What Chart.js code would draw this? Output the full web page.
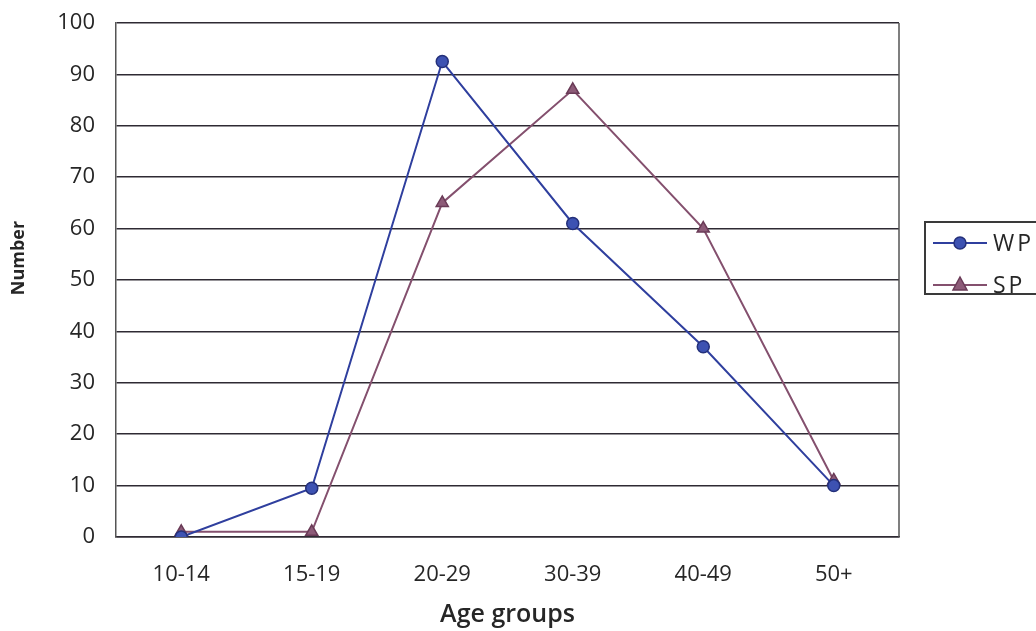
<!DOCTYPE html>
<html>
<head>
<meta charset="utf-8">
<script src="https://cdn.jsdelivr.net/npm/chart.js@4.4.1/dist/chart.umd.min.js"></script>
<style>
  html, body { margin: 0; padding: 0; background: #ffffff; }
  #wrap { width: 1036px; height: 631px; position: relative; }
</style>
</head>
<body>
<div id="wrap"><canvas id="chart" width="1036" height="631"></canvas></div>
<script>
// Age groups on the category axis
const ageGroups = ['10-14', '15-19', '20-29', '30-39', '40-49', '50+'];
// Counts per age group
const wpValues = [0, 9.5, 92.5, 61, 37, 10];
const spValues = [1, 1, 65, 87, 60, 11];
// Y axis range and step
const yMin = 0;
const yMax = 100;
const yStep = 10;

const WP_LINE = '#2f3f9e';
const WP_FILL = '#3d52b2';
const WP_EDGE = '#24307a';
const SP_LINE = '#84506e';
const SP_FILL = '#8d5b78';
const SP_EDGE = '#6a3b57';
const GRID = '#2e2a33';
const TEXT = '#262626';
const FONT = "'Open Sans', 'Noto Sans', sans-serif";

// Boxed legend at the right edge, drawn on the canvas
const sideLegend = {
  id: 'sideLegend',
  afterDraw(chart) {
    const ctx = chart.ctx;
    ctx.save();
    ctx.strokeStyle = '#3a3a3a';
    ctx.lineWidth = 2;
    ctx.strokeRect(925, 222, 130, 72);
    const rows = [
      { label: 'WP', y: 243, line: WP_LINE, fill: WP_FILL, edge: WP_EDGE, shape: 'circle' },
      { label: 'SP', y: 285, line: SP_LINE, fill: SP_FILL, edge: SP_EDGE, shape: 'triangle' }
    ];
    rows.forEach(r => {
      ctx.beginPath();
      ctx.strokeStyle = r.line;
      ctx.lineWidth = 2;
      ctx.moveTo(933, r.y);
      ctx.lineTo(987, r.y);
      ctx.stroke();
      ctx.fillStyle = r.fill;
      ctx.strokeStyle = r.edge;
      ctx.lineWidth = 1.5;
      ctx.beginPath();
      if (r.shape === 'circle') {
        ctx.arc(960, r.y, 6, 0, Math.PI * 2);
      } else {
        ctx.moveTo(960, r.y - 8);
        ctx.lineTo(967, r.y + 5);
        ctx.lineTo(953, r.y + 5);
        ctx.closePath();
      }
      ctx.fill();
      ctx.stroke();
      ctx.fillStyle = TEXT;
      ctx.font = '23px ' + FONT;
      ctx.letterSpacing = '3px';
      ctx.textBaseline = 'middle';
      ctx.textAlign = 'left';
      ctx.fillText(r.label, 993, r.y + 1);
    });
    ctx.restore();
  }
};

// Right edge of the plot frame and the vertical axis caption
const plotFrame = {
  id: 'plotFrame',
  afterDatasetsDraw(chart) {
    const a = chart.chartArea;
    const ctx = chart.ctx;
    ctx.save();
    ctx.strokeStyle = '#555555';
    ctx.lineWidth = 1.5;
    ctx.beginPath();
    ctx.moveTo(a.right, a.top);
    ctx.lineTo(a.right, a.bottom);
    ctx.stroke();
    ctx.translate(19, 258);
    ctx.rotate(-Math.PI / 2);
    ctx.fillStyle = TEXT;
    ctx.font = 'bold 18px ' + FONT;
    ctx.textAlign = 'center';
    ctx.textBaseline = 'middle';
    ctx.fillText('Number', 0, 0);
    ctx.restore();
  }
};

new Chart(document.getElementById('chart'), {
  type: 'line',
  data: {
    labels: ageGroups,
    datasets: [
      {
        label: 'WP',
        data: wpValues,
        borderColor: WP_LINE,
        backgroundColor: WP_FILL,
        pointBackgroundColor: WP_FILL,
        pointBorderColor: WP_EDGE,
        pointBorderWidth: 1.5,
        pointStyle: 'circle',
        pointRadius: 6,
        borderWidth: 2,
        tension: 0
      },
      {
        label: 'SP',
        data: spValues,
        borderColor: SP_LINE,
        backgroundColor: SP_FILL,
        pointBackgroundColor: SP_FILL,
        pointBorderColor: SP_EDGE,
        pointBorderWidth: 1.5,
        pointStyle: 'triangle',
        pointRadius: 7,
        borderWidth: 2,
        tension: 0
      }
    ]
  },
  options: {
    responsive: false,
    animation: false,
    devicePixelRatio: 1,
    layout: { padding: { top: 23, right: 137, bottom: 0, left: 0 } },
    plugins: {
      legend: { display: false },
      tooltip: { enabled: false }
    },
    scales: {
      x: {
        offset: true,
        grid: { display: false, drawTicks: false },
        border: { display: true, color: GRID, width: 1.5 },
        ticks: { color: TEXT, font: { family: FONT, size: 22 }, padding: 25 },
        title: {
          display: true,
          text: 'Age groups',
          color: TEXT,
          font: { family: FONT, size: 25, weight: '600' },
          padding: { top: 0, bottom: 1 }
        },
        afterFit(scale) { scale.height = 94; }
      },
      y: {
        min: yMin,
        max: yMax,
        ticks: { stepSize: yStep, color: TEXT, font: { family: FONT, size: 22 }, padding: 21 },
        grid: { color: GRID, lineWidth: 1.5, drawTicks: false },
        border: { display: true, color: '#555555', width: 1.5 },
        afterFit(scale) {
          scale.width = 116;
          scale.paddingTop = 0;
          scale.paddingBottom = 0;
        }
      }
    }
  },
  plugins: [plotFrame, sideLegend]
});
</script>
</body>
</html>
